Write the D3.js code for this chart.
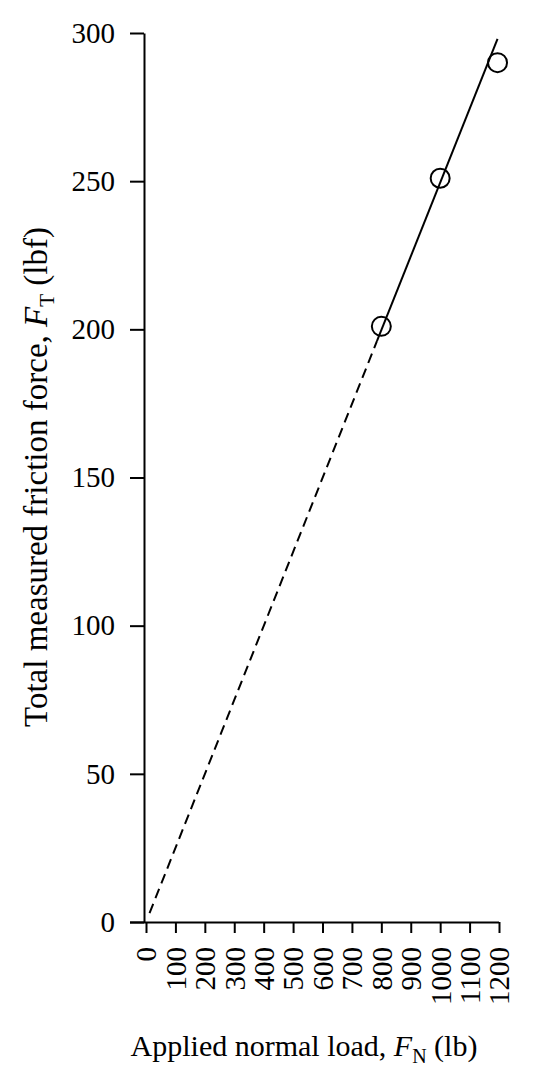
<!DOCTYPE html>
<html>
<head>
<meta charset="utf-8">
<script src="https://cdn.jsdelivr.net/npm/d3@7"></script>
<style>
  body { margin: 0; background: #fff; }
  text { font-family: "Liberation Serif", "DejaVu Serif", serif; fill: #000; }
</style>
</head>
<body>
<svg id="chart" width="533" height="1083"></svg>
<script>
// measured points (applied load lb, friction lbf)
var loadVals = [800, 1000, 1195];
var frictionVals = [201, 251, 290];
// fitted line: dashed extrapolation then solid over data range
var dashLoad = [12, 785];
var dashFriction = [3, 196];
var solidLoad = [785, 1195];
var solidFriction = [196, 298];
var xTicks = [0, 100, 200, 300, 400, 500, 600, 700, 800, 900, 1000, 1100, 1200];
var yTicks = [0, 50, 100, 150, 200, 250, 300];

var svg = d3.select('#chart');
var x = d3.scaleLinear().domain([0, 1200]).range([146, 499]);
var y = d3.scaleLinear().domain([0, 300]).range([922, 33]);

// axes
var yAxis = svg.append('g')
  .attr('transform', 'translate(144,0)')
  .call(d3.axisLeft(y).tickValues(yTicks).tickSize(14).tickPadding(15).tickSizeOuter(0));
yAxis.select('.domain').attr('stroke-width', 2);
yAxis.selectAll('.tick line').attr('stroke-width', 2);
yAxis.selectAll('.tick text').style('font-size', '29px').style('font-family', '"Liberation Serif", serif');

var xAxis = svg.append('g')
  .attr('transform', 'translate(0,922)')
  .call(d3.axisBottom(x).tickValues(xTicks).tickFormat(d3.format('d')).tickSize(11).tickSizeOuter(0));
xAxis.select('.domain').attr('d', 'M130,0.5H' + x(1200)).attr('stroke-width', 2);
xAxis.selectAll('.tick line').attr('stroke-width', 2);
xAxis.selectAll('.tick text')
  .style('font-size', '29px')
  .style('font-family', '"Liberation Serif", serif')
  .attr('transform', 'rotate(-90)')
  .attr('x', -25).attr('y', 0).attr('dy', '0.34em')
  .attr('text-anchor', 'end');

// lines
var line = d3.line().x(function(d){return x(d[0]);}).y(function(d){return y(d[1]);});
svg.append('path')
  .datum(d3.zip(dashLoad, dashFriction))
  .attr('d', line)
  .attr('fill', 'none').attr('stroke', '#000').attr('stroke-width', 2)
  .attr('stroke-dasharray', '10,6');
svg.append('path')
  .datum(d3.zip(solidLoad, solidFriction))
  .attr('d', line)
  .attr('fill', 'none').attr('stroke', '#000').attr('stroke-width', 2);

// points
svg.selectAll('.pt')
  .data(d3.zip(loadVals, frictionVals))
  .enter()
  .append('circle')
  .attr('class', 'pt')
  .attr('cx', function(d){return x(d[0]);})
  .attr('cy', function(d){return y(d[1]);})
  .attr('r', 9.5)
  .attr('fill', 'none').attr('stroke', '#000').attr('stroke-width', 2);

// axis titles
var yt = svg.append('text')
  .attr('transform', 'translate(47,477) rotate(-90)')
  .attr('text-anchor', 'middle')
  .style('font-size', '33px');
yt.append('tspan').text('Total measured friction force, ');
yt.append('tspan').style('font-style', 'italic').text('F');
yt.append('tspan').attr('dy', 7).style('font-size', '21px').text('T');
yt.append('tspan').attr('dy', -7).text(' (lbf)');

var xt = svg.append('text')
  .attr('transform', 'translate(304,1056)')
  .attr('text-anchor', 'middle')
  .style('font-size', '30px');
xt.append('tspan').text('Applied normal load, ');
xt.append('tspan').style('font-style', 'italic').text('F');
xt.append('tspan').attr('dy', 7).style('font-size', '20px').text('N');
xt.append('tspan').attr('dy', -7).text(' (lb)');
</script>
</body>
</html>
